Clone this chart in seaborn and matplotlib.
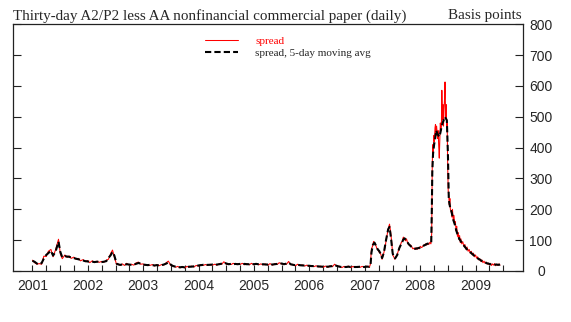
import matplotlib
matplotlib.use("Agg")
import matplotlib.pyplot as plt
import seaborn as sns
import pandas as pd

# ---------------- data ----------------
# 5-day moving average (black dashed)
ma_dates = [
    "2001-07-02", "2001-07-16", "2001-08-01", "2001-08-15", "2001-09-01", "2001-09-15",
    "2001-10-01", "2001-10-15", "2001-11-01", "2001-11-15", "2001-12-01", "2001-12-12",
    "2001-12-21",
    "2002-01-02", "2002-01-15", "2002-02-01", "2002-02-15", "2002-03-01", "2002-03-15",
    "2002-04-01", "2002-04-15", "2002-05-01", "2002-05-15", "2002-06-01", "2002-06-15",
    "2002-07-01", "2002-07-15", "2002-08-01", "2002-08-15", "2002-09-01", "2002-09-15",
    "2002-10-01", "2002-10-15", "2002-11-01", "2002-11-15", "2002-12-01", "2002-12-12",
    "2002-12-24",
    "2003-01-08", "2003-01-20", "2003-02-01", "2003-02-15", "2003-03-01", "2003-03-15",
    "2003-04-01", "2003-04-15", "2003-05-01", "2003-05-15", "2003-06-01", "2003-06-15",
    "2003-07-01", "2003-07-15", "2003-08-01", "2003-08-15", "2003-09-01", "2003-09-15",
    "2003-10-01", "2003-10-15", "2003-11-01", "2003-11-15", "2003-12-01", "2003-12-15",
    "2004-01-02", "2004-01-15", "2004-02-01", "2004-02-15", "2004-03-01", "2004-03-15",
    "2004-04-01", "2004-04-15", "2004-05-01", "2004-05-15", "2004-06-01", "2004-06-15",
    "2004-07-01", "2004-07-15", "2004-08-01", "2004-08-15", "2004-09-01", "2004-09-15",
    "2004-10-01", "2004-10-15", "2004-11-01", "2004-11-15", "2004-12-01", "2004-12-15",
    "2005-01-03", "2005-01-15", "2005-02-01", "2005-02-15", "2005-03-01", "2005-03-15",
    "2005-04-01", "2005-04-15", "2005-05-01", "2005-05-15", "2005-06-01", "2005-06-15",
    "2005-07-01", "2005-07-15", "2005-08-01", "2005-08-15", "2005-09-01", "2005-09-15",
    "2005-10-01", "2005-10-15", "2005-11-01", "2005-11-15", "2005-12-01", "2005-12-15",
    "2006-01-03", "2006-01-15", "2006-02-01", "2006-02-15", "2006-03-01", "2006-03-15",
    "2006-04-01", "2006-04-15", "2006-05-01", "2006-05-15", "2006-06-01", "2006-06-15",
    "2006-07-01", "2006-07-15", "2006-08-01", "2006-08-15", "2006-09-01", "2006-09-15",
    "2006-10-01", "2006-10-15", "2006-11-01", "2006-11-15", "2006-12-01", "2006-12-15",
    "2007-01-03", "2007-01-15", "2007-02-01", "2007-02-15", "2007-03-01", "2007-03-15",
    "2007-04-01", "2007-04-15", "2007-05-01", "2007-05-15", "2007-06-01", "2007-06-15",
    "2007-07-01", "2007-07-15", "2007-08-01", "2007-08-09", "2007-08-15", "2007-08-24",
    "2007-09-04", "2007-09-14", "2007-09-25", "2007-10-05", "2007-10-15", "2007-10-24",
    "2007-11-05", "2007-11-19", "2007-12-03", "2007-12-12", "2007-12-21",
    "2008-01-02", "2008-01-10", "2008-01-18", "2008-02-01", "2008-02-15", "2008-03-01",
    "2008-03-12", "2008-03-20", "2008-04-01", "2008-04-15", "2008-05-01", "2008-05-15",
    "2008-06-01", "2008-06-15", "2008-07-01", "2008-07-15", "2008-08-01", "2008-08-15",
    "2008-09-01", "2008-09-12", "2008-09-16", "2008-09-19", "2008-09-24", "2008-10-01",
    "2008-10-08", "2008-10-15", "2008-10-22", "2008-10-29", "2008-11-05", "2008-11-12",
    "2008-11-19", "2008-11-26", "2008-12-03", "2008-12-10", "2008-12-17", "2008-12-24",
    "2008-12-31",
    "2009-01-06", "2009-01-15", "2009-01-25", "2009-02-05", "2009-02-15", "2009-02-25",
    "2009-03-05", "2009-03-15", "2009-03-25", "2009-04-08", "2009-04-22", "2009-05-06",
    "2009-05-20", "2009-06-03", "2009-06-17", "2009-07-01", "2009-07-15", "2009-08-01",
    "2009-08-15", "2009-09-01", "2009-09-15", "2009-10-01", "2009-10-15", "2009-11-01",
    "2009-11-15", "2009-12-01", "2009-12-10",
]

ma_values = [
    33, 30, 24, 21, 26, 40, 52, 58, 66, 50, 62, 80, 95,
    62, 44, 48, 47, 46, 44, 42, 40, 38, 36, 34, 32, 31, 30, 30, 29, 30, 30, 29, 30, 32, 42, 52, 62, 50,
    24, 21, 20, 21, 20, 22, 21, 20, 21, 23, 26, 24, 21, 20, 19, 20, 19, 18, 19, 18, 19, 21, 24, 28,
    20, 16, 14, 13, 12, 13, 12, 13, 14, 14, 15, 16, 18, 19, 20, 19, 20, 20, 21, 20, 21, 22, 24, 27,
    24, 22, 23, 22, 23, 22, 23, 22, 23, 22, 22, 23, 22, 23, 22, 21, 22, 21, 21, 22, 21, 22, 23, 25,
    24, 22, 24, 27, 22, 20, 19, 20, 19, 18, 18, 17, 17, 16, 16, 15, 15, 14, 14, 14, 14, 15, 16, 19,
    16, 14, 13, 13, 13, 14, 13, 13, 13, 13, 14, 13, 13, 14, 14, 20, 60, 84,
    92, 82, 70, 65, 55, 42, 60, 100, 135, 143, 110,
    57, 44, 41, 52, 75, 90, 102, 106, 100, 88, 80, 74, 72, 74, 76, 80, 84, 88,
    90, 92, 200, 320, 380, 410, 430, 456, 446, 440, 435, 450, 467, 480, 489, 500, 495, 489,
    380,
    230, 205, 190, 165, 150, 130, 118, 105, 97, 88, 78, 70, 64, 58, 52, 46, 41, 36,
    31, 28, 25, 23, 21, 20, 21, 20, 21,
]

# daily spread (thin red)
spread_dates = [
    "2001-07-02", "2001-07-16", "2001-08-01", "2001-08-15", "2001-09-01", "2001-09-15",
    "2001-10-01", "2001-10-15", "2001-11-01", "2001-11-15", "2001-12-01", "2001-12-12",
    "2001-12-21",
    "2002-01-02", "2002-01-15", "2002-02-01", "2002-02-15", "2002-03-01", "2002-03-15",
    "2002-04-01", "2002-04-15", "2002-05-01", "2002-05-15", "2002-06-01", "2002-06-15",
    "2002-07-01", "2002-07-15", "2002-08-01", "2002-08-15", "2002-09-01", "2002-09-15",
    "2002-10-01", "2002-10-15", "2002-11-01", "2002-11-15", "2002-12-01", "2002-12-12",
    "2002-12-24",
    "2003-01-08", "2003-01-20", "2003-02-01", "2003-02-15", "2003-03-01", "2003-03-15",
    "2003-04-01", "2003-04-15", "2003-05-01", "2003-05-15", "2003-06-01", "2003-06-15",
    "2003-07-01", "2003-07-15", "2003-08-01", "2003-08-15", "2003-09-01", "2003-09-15",
    "2003-10-01", "2003-10-15", "2003-11-01", "2003-11-15", "2003-12-01", "2003-12-15",
    "2004-01-02", "2004-01-15", "2004-02-01", "2004-02-15", "2004-03-01", "2004-03-15",
    "2004-04-01", "2004-04-15", "2004-05-01", "2004-05-15", "2004-06-01", "2004-06-15",
    "2004-07-01", "2004-07-15", "2004-08-01", "2004-08-15", "2004-09-01", "2004-09-15",
    "2004-10-01", "2004-10-15", "2004-11-01", "2004-11-15", "2004-12-01", "2004-12-15",
    "2005-01-03", "2005-01-15", "2005-02-01", "2005-02-15", "2005-03-01", "2005-03-15",
    "2005-04-01", "2005-04-15", "2005-05-01", "2005-05-15", "2005-06-01", "2005-06-15",
    "2005-07-01", "2005-07-15", "2005-08-01", "2005-08-15", "2005-09-01", "2005-09-15",
    "2005-10-01", "2005-10-15", "2005-11-01", "2005-11-15", "2005-12-01", "2005-12-15",
    "2006-01-03", "2006-01-15", "2006-02-01", "2006-02-15", "2006-03-01", "2006-03-15",
    "2006-04-01", "2006-04-15", "2006-05-01", "2006-05-15", "2006-06-01", "2006-06-15",
    "2006-07-01", "2006-07-15", "2006-08-01", "2006-08-15", "2006-09-01", "2006-09-15",
    "2006-10-01", "2006-10-15", "2006-11-01", "2006-11-15", "2006-12-01", "2006-12-15",
    "2007-01-03", "2007-01-15", "2007-02-01", "2007-02-15", "2007-03-01", "2007-03-15",
    "2007-04-01", "2007-04-15", "2007-05-01", "2007-05-15", "2007-06-01", "2007-06-15",
    "2007-07-01", "2007-07-15",
    "2007-08-01", "2007-08-08", "2007-08-15", "2007-08-22", "2007-08-29", "2007-09-05",
    "2007-09-12", "2007-09-19", "2007-09-26", "2007-10-03", "2007-10-10", "2007-10-17",
    "2007-10-24", "2007-10-31", "2007-11-07", "2007-11-14", "2007-11-21", "2007-11-28",
    "2007-12-05", "2007-12-12", "2007-12-19", "2007-12-26",
    "2008-01-02", "2008-01-09", "2008-01-16", "2008-01-23", "2008-01-30", "2008-02-06",
    "2008-02-13", "2008-02-20", "2008-02-27", "2008-03-05", "2008-03-12", "2008-03-19",
    "2008-03-26", "2008-04-02", "2008-04-09", "2008-04-16", "2008-04-23", "2008-04-30",
    "2008-05-07", "2008-05-14", "2008-05-21", "2008-05-28", "2008-06-04", "2008-06-11",
    "2008-06-18", "2008-06-25", "2008-07-02", "2008-07-09", "2008-07-16", "2008-07-23",
    "2008-07-30", "2008-08-06", "2008-08-13", "2008-08-20", "2008-08-27", "2008-09-03",
    "2008-09-10", "2008-09-15", "2008-09-17", "2008-09-19", "2008-09-23", "2008-09-26",
    "2008-09-30", "2008-10-03", "2008-10-07", "2008-10-10", "2008-10-14", "2008-10-17",
    "2008-10-21", "2008-10-24", "2008-10-28", "2008-10-31", "2008-11-04", "2008-11-07",
    "2008-11-11", "2008-11-14", "2008-11-18", "2008-11-21", "2008-11-25", "2008-11-28",
    "2008-12-02", "2008-12-05", "2008-12-09", "2008-12-12", "2008-12-16", "2008-12-19",
    "2008-12-23", "2008-12-26", "2008-12-30",
    "2009-01-02", "2009-01-06", "2009-01-09", "2009-01-13", "2009-01-16", "2009-01-21",
    "2009-01-26", "2009-01-30", "2009-02-04", "2009-02-09", "2009-02-13", "2009-02-18",
    "2009-02-23", "2009-02-27", "2009-03-04", "2009-03-09", "2009-03-13", "2009-03-18",
    "2009-03-23", "2009-03-27", "2009-04-01", "2009-04-08", "2009-04-15", "2009-04-22",
    "2009-04-29", "2009-05-06", "2009-05-13", "2009-05-20", "2009-05-27", "2009-06-03",
    "2009-06-10", "2009-06-17", "2009-06-24", "2009-07-01", "2009-07-08", "2009-07-15",
    "2009-07-22", "2009-07-29", "2009-08-05", "2009-08-12", "2009-08-19", "2009-08-26",
    "2009-09-02", "2009-09-09", "2009-09-16", "2009-09-23", "2009-09-30", "2009-10-07",
    "2009-10-14", "2009-10-21", "2009-10-28", "2009-11-04", "2009-11-11", "2009-11-18",
    "2009-11-25", "2009-12-02", "2009-12-09",
]

spread_values = [
    35, 27, 22, 24, 22, 48, 47, 64, 70, 46, 68, 88, 103,
    55, 40, 52, 44, 49, 41, 45, 38, 41, 33, 37, 30, 34, 27, 33, 27, 32, 28, 31, 28, 35, 38, 58, 68, 45,
    21, 23, 18, 23, 18, 25, 19, 22, 19, 26, 29, 22, 23, 18, 21, 18, 21, 16, 21, 17, 21, 19, 27, 32,
    17, 18, 12, 15, 10, 15, 10, 15, 12, 16, 13, 18, 16, 21, 18, 21, 18, 22, 19, 22, 19, 24, 22, 30,
    21, 24, 21, 25, 21, 24, 21, 25, 20, 24, 20, 25, 20, 25, 20, 23, 20, 23, 19, 24, 19, 24, 21, 27,
    22, 24, 22, 31, 20, 22, 17, 22, 17, 20, 16, 19, 15, 18, 14, 17, 13, 16, 12, 16, 12, 17, 14, 22,
    14, 16, 11, 15, 11, 16, 11, 15, 11, 15, 12, 15, 11, 16,
    12, 22, 72, 80, 96, 90, 84, 74, 72, 62, 60, 52, 38, 50, 64, 80, 104, 122, 140, 152, 128, 96,
    52, 46, 38, 44, 52, 62, 72, 80, 92, 96, 110, 104, 98, 104, 92, 86, 82, 84,
    78, 72, 74, 70, 76, 70, 75, 72, 80, 76, 78, 84, 82, 88, 84, 90, 86, 93,
    88, 120, 260, 350, 410, 380, 440, 420, 465, 475, 440, 470, 450, 430, 455, 410, 366, 420,
    480, 455, 470, 586, 490, 540, 470, 520, 560, 613, 500, 540, 470, 480, 330,
    260, 240, 215, 235, 200, 195, 175, 200, 165, 180, 150, 160, 130, 145, 112, 125, 102, 115,
    92, 104, 88, 95, 80, 86, 70, 78, 64, 70, 58, 64, 52, 58, 46, 52, 42, 46,
    36, 40, 31, 36, 27, 32, 25, 29, 22, 26, 20, 25, 18, 23, 19, 24, 17, 22,
    18, 23, 19,
]

year_labels = ["2001", "2002", "2003", "2004", "2005", "2006", "2007", "2008", "2009"]
y_ticks = [0, 100, 200, 300, 400, 500, 600, 700, 800]

title_text = "Thirty-day A2/P2 less AA nonfinancial commercial paper (daily)"
unit_text = "Basis points"
series_names = ["spread", "spread, 5-day moving avg"]

# ---------------- style ----------------
sns.set_style("white")
plt.rcParams["font.family"] = ["Liberation Sans", "DejaVu Sans"]

df_sp = pd.DataFrame({"date": pd.to_datetime(spread_dates), "value": spread_values})
df_ma = pd.DataFrame({"date": pd.to_datetime(ma_dates), "value": ma_values})

W, H = 571, 322
fig = plt.figure(figsize=(W / 100, H / 100), dpi=100)
ax = fig.add_axes([12.7 / W, 51 / H, 510 / W, 246.7 / H])

sns.lineplot(data=df_sp, x="date", y="value", color="#ff0000", linewidth=0.75,
             ax=ax, label=series_names[0])
sns.lineplot(data=df_ma, x="date", y="value", color="black", linewidth=1.5,
             linestyle=(0, (3, 1.5)), ax=ax, label=series_names[1])

ax.set_xlabel("")
ax.set_ylabel("")

# x axis: labels centred mid-year, quarterly minor ticks
ax.set_xlim(pd.Timestamp("2001-02-22"), pd.Timestamp("2010-05-08"))
major = [pd.Timestamp(f"{y}-07-01") for y in year_labels]
minor = [d for d in pd.date_range("2001-10-01", "2010-01-01", freq="QS") if d.month != 7]
ax.set_xticks(major)
ax.set_xticklabels(year_labels)
ax.set_xticks(minor, minor=True)
ax.tick_params(axis="x", which="both", direction="in", length=4, width=0.8,
               pad=6, labelsize=10, top=False, bottom=True, color="#222222")

# y axis: ticks both sides, labels right
ax.set_ylim(0, 800)
ax.set_yticks(y_ticks)
ax.tick_params(axis="y", which="both", direction="in", length=5.5, width=0.8,
               left=True, right=True, labelleft=False, labelright=True,
               labelsize=10, pad=13.2, color="#222222")
for lbl in ax.get_yticklabels():
    lbl.set_horizontalalignment("center")

for s in ax.spines.values():
    s.set_visible(True)
    s.set_color("#222222")
    s.set_linewidth(0.9)

# legend
leg = ax.legend(loc="upper left", bbox_to_anchor=(205 / W, 1 - 36 / H),
                bbox_transform=fig.transFigure, frameon=False, borderpad=0,
                borderaxespad=0, handlelength=3.0, handletextpad=1.5,
                labelspacing=0.25, prop={"family": "Liberation Serif", "size": 8})
leg.get_texts()[0].set_color("#ff0000")

# titles
fig.text(12.7 / W, 1 - 19.5 / H, title_text, family="Liberation Serif", fontsize=10.9,
         ha="left", va="baseline")
fig.text(522 / W, 1 - 19.5 / H, unit_text, family="Liberation Serif", fontsize=10.9,
         ha="right", va="baseline")

fig.savefig("out.png", dpi=100)
